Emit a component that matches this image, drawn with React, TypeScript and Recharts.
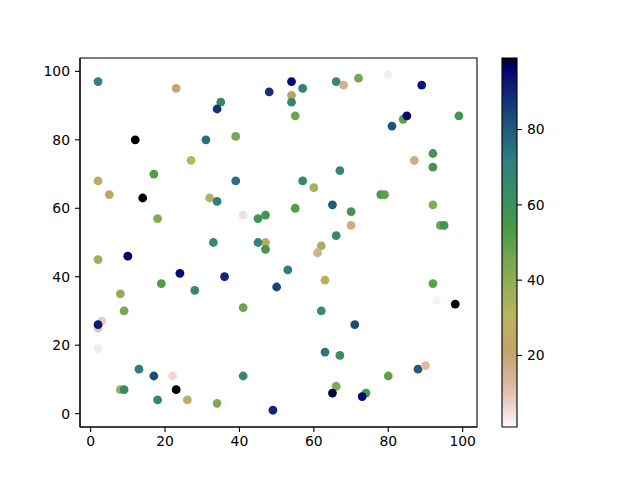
import React from "react";
import {
  ScatterChart,
  Scatter,
  ComposedChart,
  Line,
  XAxis,
  YAxis,
  ReferenceArea,
} from "recharts";

// scatter positions
const xVals = [
  2, 23, 48, 35, 34, 12, 31, 39, 27, 17, 2, 39, 5, 14, 32, 34, 18, 41, 45, 47,
  47, 33, 45, 47, 54, 57, 54, 54, 55, 66, 68, 72, 80, 89, 84, 85, 81, 99, 92, 92,
  87, 67, 57, 60, 78, 79, 92, 65, 55, 70, 70, 94, 95, 66, 62, 2, 10, 24, 36, 50,
  19, 28, 8, 41, 9, 3, 2, 2, 2, 13, 17, 22, 41, 8, 9, 23, 18, 26, 34, 36,
  49, 61, 53, 63, 92, 93, 98, 62, 71, 63, 67, 88, 90, 80, 66, 65, 74, 73,
];
const yVals = [
  97, 95, 94, 91, 89, 80, 80, 81, 74, 70, 68, 68, 64, 63, 63, 62, 57, 58, 57, 58,
  50, 50, 50, 48, 97, 95, 93, 91, 87, 97, 96, 98, 99, 96, 86, 87, 84, 87, 76, 72,
  74, 71, 68, 66, 64, 64, 61, 61, 60, 59, 55, 55, 55, 52, 49, 45, 46, 41, 40, 37,
  38, 36, 35, 31, 30, 27, 25, 26, 19, 13, 11, 11, 11, 7, 7, 7, 4, 4, 3, 2,
  1, 47, 42, 39, 38, 33, 32, 30, 26, 18, 17, 13, 14, 11, 8, 6, 6, 5,
];
// colour values
const cVals = [
  70, 20, 88, 65, 88, 99, 75, 45, 30, 52, 25, 75, 22, 99, 33, 72, 43, 5, 58, 58,
  25, 65, 70, 57, 95, 70, 22, 65, 47, 67, 15, 45, 3, 93, 50, 95, 82, 57, 57, 58,
  17, 68, 67, 35, 55, 50, 43, 80, 52, 58, 17, 47, 58, 65, 35, 37, 97, 95, 90, 85,
  52, 65, 40, 47, 45, 8, 10, 92, 3, 72, 83, 6, 65, 37, 65, 99, 68, 27, 43, 1,
  90, 15, 72, 28, 50, 2, 99, 62, 83, 74, 62, 80, 12, 50, 43, 98, 55, 95,
];

const xTicks = [0, 20, 40, 60, 80, 100];
const yTicks = [0, 20, 40, 60, 80, 100];
const cbarTicks = [20, 40, 60, 80];

// matplotlib gist_earth segment data
const RED = [
  [0.0, 0.0], [0.2824, 0.1882], [0.4588, 0.2714], [0.549, 0.4719],
  [0.698, 0.7176], [0.7882, 0.7553], [1.0, 0.9922],
];
const GREEN = [
  [0.0, 0.0], [0.0275, 0.0], [0.1098, 0.1893], [0.1647, 0.3035],
  [0.2078, 0.3841], [0.2824, 0.502], [0.5216, 0.6397], [0.698, 0.7171],
  [0.7882, 0.6392], [0.7922, 0.6413], [0.8, 0.6447], [0.8078, 0.6481],
  [0.8157, 0.6549], [0.8667, 0.6991], [0.8745, 0.7103], [0.8824, 0.7216],
  [0.8902, 0.7323], [0.898, 0.743], [0.9412, 0.8275], [0.9569, 0.8635],
  [0.9647, 0.8816], [0.9961, 0.9733], [1.0, 0.9843],
];
const BLUE = [
  [0.0, 0.0], [0.0039, 0.1684], [0.0078, 0.2212], [0.0275, 0.4329],
  [0.0314, 0.4549], [0.2824, 0.5004], [0.4667, 0.2748], [0.5451, 0.3205],
  [0.7843, 0.3961], [0.8941, 0.6651], [1.0, 0.9843],
];

function seg(table: number[][], t: number) {
  for (let i = 1; i < table.length; i++) {
    if (t <= table[i][0]) {
      const [x0, y0] = table[i - 1];
      const [x1, y1] = table[i];
      return y0 + ((t - x0) / (x1 - x0)) * (y1 - y0);
    }
  }
  return table[table.length - 1][1];
}

function gistEarth(t: number) {
  const c = Math.max(0, Math.min(1, t));
  const h = (v: number) => Math.round(v * 255).toString(16).padStart(2, "0");
  return "#" + h(seg(RED, c)) + h(seg(GREEN, c)) + h(seg(BLUE, c));
}

const vmin = Math.min(...cVals);
const vmax = Math.max(...cVals);

// reversed map: high values dark
const colorFor = (v: number) => gistEarth(1 - (v - vmin) / (vmax - vmin));

const points = xVals.map((x, i) => ({
  x,
  y: yVals[i],
  color: colorFor(cVals[i]),
}));

const cbarData = [
  { x: 0, y: vmin },
  { x: 1, y: vmax },
];

const gradStops = Array.from({ length: 65 }, (_, i) => i / 64);

const font = "'DejaVu Sans', sans-serif";
const tickStyle = { fill: "#000", fontSize: 13.9, fontFamily: font };

export default function App() {
  return (
    <div
      style={{
        position: "absolute",
        left: 0,
        top: 0,
        width: 640,
        height: 480,
        background: "#fff",
      }}
    >
      <div style={{ position: "absolute", left: 0, top: 0 }}>
        <ScatterChart
          width={640}
          height={480}
          margin={{ top: 58, right: 163, bottom: 23, left: 20 }}
        >
          <XAxis
            type="number"
            dataKey="x"
            domain={[-2.85, 103.85]}
            ticks={xTicks}
            allowDataOverflow
            height={30}
            tickSize={5}
            tickMargin={4}
            tick={tickStyle}
            stroke="#000"
            axisLine={{ stroke: "#000", strokeWidth: 1.1 }}
            tickLine={{ stroke: "#000", strokeWidth: 1.1 }}
          />
          <YAxis
            type="number"
            dataKey="y"
            domain={[-3.9, 103.9]}
            ticks={yTicks}
            allowDataOverflow
            width={60}
            tickSize={5}
            tickMargin={5}
            tick={tickStyle}
            stroke="#000"
            axisLine={{ stroke: "#000", strokeWidth: 1.1 }}
            tickLine={{ stroke: "#000", strokeWidth: 1.1 }}
          />
          <ReferenceArea
            x1={-2.85}
            x2={103.85}
            y1={-3.9}
            y2={103.9}
            fill="none"
            stroke="#000"
            strokeWidth={1.1}
            fillOpacity={0}
          />
          <Scatter
            data={points}
            isAnimationActive={false}
            shape={(p: any) => (
              <circle cx={p.cx} cy={p.cy} r={4.4} fill={p.payload.color} />
            )}
          />
        </ScatterChart>
      </div>
      <div style={{ position: "absolute", left: 0, top: 0 }}>
        <ComposedChart
          width={640}
          height={480}
          data={cbarData}
          margin={{ top: 58, right: 83, bottom: 53, left: 502 }}
        >
          <defs>
            <linearGradient id="cbarGrad" x1="0" y1="0" x2="0" y2="1">
              {gradStops.map((o) => (
                <stop key={o} offset={o} stopColor={gistEarth(o)} />
              ))}
            </linearGradient>
          </defs>
          <XAxis type="number" dataKey="x" domain={[0, 1]} hide />
          <YAxis
            type="number"
            orientation="right"
            domain={[vmin, vmax]}
            ticks={cbarTicks}
            width={40}
            tickSize={5}
            tickMargin={5}
            tick={{ ...tickStyle, textAnchor: "start" }}
            axisLine={false}
            tickLine={{ stroke: "#000", strokeWidth: 1.1 }}
          />
          <ReferenceArea
            x1={0}
            x2={1}
            y1={vmin}
            y2={vmax}
            fill="url(#cbarGrad)"
            fillOpacity={1}
            stroke="#000"
            strokeWidth={1.1}
          />
          <Line
            dataKey="y"
            stroke="none"
            dot={false}
            isAnimationActive={false}
          />
        </ComposedChart>
      </div>
    </div>
  );
}
